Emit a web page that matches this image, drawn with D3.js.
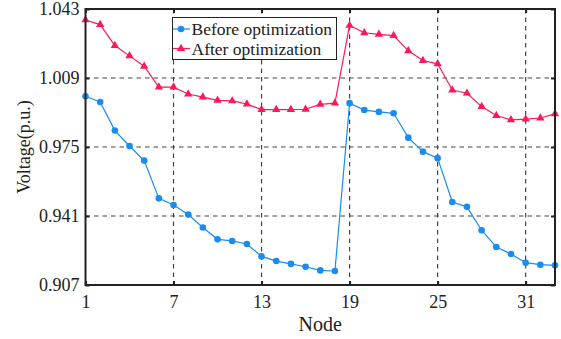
<!DOCTYPE html>
<html>
<head>
<meta charset="utf-8">
<script src="https://cdn.jsdelivr.net/npm/d3@7"></script>
<style>
html,body{margin:0;padding:0;background:#fff;}
svg{display:block;}
svg text{font-family:"Liberation Serif","Times New Roman",Tinos,Times,"DejaVu Serif",serif !important;}
</style>
</head>
<body>
<svg id="chart" width="561" height="339"></svg>
<script>
const nodes = d3.range(1, 34);
const beforeOpt = [1.0000,0.9972,0.9831,0.9755,0.9683,0.9497,0.9464,0.9417,0.9353,0.9295,0.9287,0.9272,0.9211,0.9188,0.9174,0.9160,0.9142,0.9139,
  0.9966,0.9932,0.9923,0.9916,0.9796,0.9727,0.9695,0.9479,0.9455,0.9340,0.9257,0.9223,0.9180,0.9170,0.9167];
const afterOpt = [1.0376,1.0353,1.0250,1.0199,1.0148,1.0045,1.0045,1.0011,0.9996,0.9980,0.9977,0.9962,0.9934,0.9934,0.9934,0.9936,0.9960,0.9966,
  1.0349,1.0313,1.0305,1.0299,1.0224,1.0176,1.0160,1.0031,1.0015,0.9949,0.9905,0.9884,0.9887,0.9893,0.9913];
const xTicks = [1,7,13,19,25,31];
const yTicks = [0.907,0.941,0.975,1.009,1.043];
const seriesNames = ["Before optimization","After optimization"];
const colors = ["#1a8cf0","#fa1a5c"];

const svg = d3.select("#chart");
const L = 85.5, R = 555, T = 9, B = 285;
const x = d3.scaleLinear().domain([1,33]).range([L,R]);
const y = d3.scaleLinear().domain([0.907,1.043]).range([B,T]);

// grid
const g = svg.append("g");
g.selectAll(".gx").data(xTicks.slice(1)).enter().append("line")
  .attr("x1",d=>x(d)).attr("x2",d=>x(d)).attr("y1",T).attr("y2",B)
  .attr("stroke","#444").attr("stroke-width",1.2).attr("stroke-dasharray","4.5,4");
g.selectAll(".gy").data(yTicks.slice(1,-1)).enter().append("line")
  .attr("x1",L).attr("x2",R).attr("y1",d=>y(d)).attr("y2",d=>y(d))
  .attr("stroke","#444").attr("stroke-width",1.2).attr("stroke-dasharray","4.5,4");

// series
const line = d3.line().x((d,i)=>x(nodes[i])).y(d=>y(d));
svg.append("path").datum(beforeOpt).attr("d",line).attr("fill","none").attr("stroke",colors[0]).attr("stroke-width",1.2);
svg.append("path").datum(afterOpt).attr("d",line).attr("fill","none").attr("stroke",colors[1]).attr("stroke-width",1.2);
svg.selectAll(".bm").data(beforeOpt).enter().append("circle")
  .attr("cx",(d,i)=>x(nodes[i])).attr("cy",d=>y(d)).attr("r",3.3).attr("fill",colors[0]);
const tri = d3.symbol().type(d3.symbolTriangle).size(30);
svg.selectAll(".am").data(afterOpt).enter().append("path")
  .attr("d",tri).attr("transform",(d,i)=>`translate(${x(nodes[i])},${y(d)})`).attr("fill",colors[1]);

// axes
const axB = d3.axisBottom(x).tickValues(xTicks).tickSize(-4).tickPadding(10).tickFormat(d3.format("d"));
const axL = d3.axisLeft(y).tickValues(yTicks).tickSize(-4).tickPadding(6).tickFormat(d3.format(".3f"));
const axT = d3.axisTop(x).tickValues(xTicks).tickSize(-4).tickFormat("");
const axR = d3.axisRight(y).tickValues(yTicks).tickSize(-4).tickFormat("");
function style(sel){
  sel.attr("font-family",null);
  sel.select(".domain").remove();
  sel.selectAll(".tick line").attr("stroke","#222").attr("stroke-width",2);
  sel.selectAll(".tick text").attr("fill","#222").style("font-size","18px");
}
svg.append("g").attr("transform",`translate(0,${B})`).call(axB).call(style);
svg.append("g").attr("transform",`translate(${L},0)`).call(axL).call(style);
svg.append("g").attr("transform",`translate(0,${T})`).call(axT).call(style);
svg.append("g").attr("transform",`translate(${R},0)`).call(axR).call(style);
svg.append("rect").attr("x",L).attr("y",T).attr("width",R-L).attr("height",B-T)
  .attr("fill","none").attr("stroke","#222").attr("stroke-width",2);

// labels
svg.append("text").attr("x",(L+R)/2).attr("y",331).attr("text-anchor","middle")
  .style("font-size","20px").attr("fill","#222").text("Node");
svg.append("text").attr("transform",`translate(30,${(T+B)/2}) rotate(-90)`).attr("text-anchor","middle")
  .style("font-size","18px").attr("fill","#222").text("Voltage(p.u.)");

// legend
const lg = svg.append("g");
lg.append("rect").attr("x",172.5).attr("y",17.5).attr("width",164).attr("height",42)
  .attr("fill","#fff").attr("stroke","#222").attr("stroke-width",1);
const ly = [29,48.5];
[0,1].forEach(i=>{
  lg.append("line").attr("x1",173).attr("x2",190).attr("y1",ly[i]).attr("y2",ly[i]).attr("stroke",colors[i]).attr("stroke-width",1.2);
  if(i===0) lg.append("circle").attr("cx",181).attr("cy",ly[i]).attr("r",3.3).attr("fill",colors[i]);
  else lg.append("path").attr("d",tri).attr("transform",`translate(181,${ly[i]})`).attr("fill",colors[i]);
  lg.append("text").attr("x",191.5).attr("y",ly[i]+6).style("font-size","17.5px").attr("fill","#222").text(seriesNames[i]);
});
</script>
</body>
</html>
